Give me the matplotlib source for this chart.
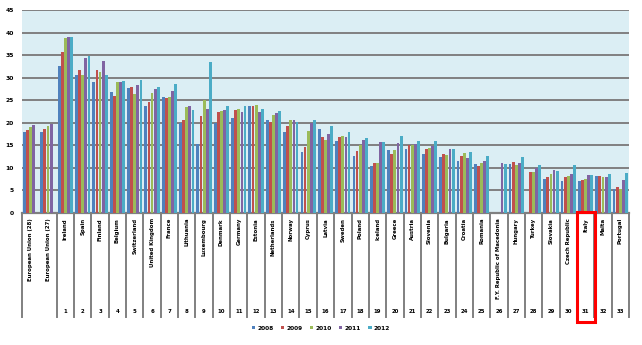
import numpy as np
import matplotlib
matplotlib.use("Agg")
import matplotlib.pyplot as plt
from matplotlib.transforms import blended_transform_factory
from matplotlib.patches import Rectangle, Patch
from matplotlib.lines import Line2D

nan = np.nan

countries = [
    "European Union (28)", "European Union (27)", "Ireland", "Spain", "Finland",
    "Belgium", "Switzerland", "United Kingdom", "France", "Lithuania",
    "Luxembourg", "Denmark", "Germany", "Estonia", "Netherlands", "Norway",
    "Cyprus", "Latvia", "Sweden", "Poland", "Iceland", "Greece", "Austria",
    "Slovenia", "Bulgaria", "Croatia", "Romania",
    "F.Y. Republic of Macedonia", "Hungary", "Turkey", "Slovakia",
    "Czech Republic", "Italy", "Malta", "Portugal",
]

years = ["2008", "2009", "2010", "2011", "2012"]

v2008 = [17.9, 17.9, 32.5, 30.5, 29.0, 26.8, 27.6, 23.7, 25.7, 19.9,
         15.3, 19.9, 21.0, 23.7, 20.6, 17.9, 13.5, 18.6, 16.0, 12.6,
         10.4, 14.0, 14.2, 13.1, 12.4, 11.5, 10.9, nan, 10.9, nan,
         7.6, 7.1, 7.1, 8.2, 5.4]
v2009 = [18.4, 18.6, 35.6, 31.6, 31.8, 25.9, 27.9, 24.6, 25.4, 20.6,
         21.5, 22.4, 22.8, 23.7, 20.1, 19.3, 14.6, 16.8, 16.8, 13.8,
         11.1, 13.1, 15.1, 14.2, 13.1, 12.6, 10.4, nan, 11.3, 9.1,
         8.0, 8.0, 7.4, 8.2, 5.8]
v2010 = [19.0, 19.3, 38.7, 30.7, 31.2, 29.0, 26.3, 26.5, 25.7, 23.5,
         25.0, 22.6, 23.0, 23.9, 21.7, 20.6, 18.2, 16.2, 17.1, 15.1,
         11.1, 14.0, 15.1, 14.4, 12.9, 13.3, 11.1, nan, 10.7, 9.1,
         8.7, 8.2, 7.6, 8.0, 5.4]
v2011 = [19.5, 19.8, 39.1, 34.3, 33.6, 29.0, 28.3, 27.4, 27.0, 23.7,
         23.0, 22.8, 22.4, 22.4, 22.1, 20.6, 19.9, 17.5, 16.8, 16.2,
         15.7, 15.5, 15.3, 14.9, 14.2, 12.2, 11.5, 11.1, 11.1, 10.0,
         9.6, 8.7, 8.5, 8.0, 7.4]
v2012 = [nan, nan, 39.1, 34.9, 30.7, 29.2, 29.4, 27.9, 28.5, 22.8,
         33.4, 23.7, 23.7, 23.0, 22.6, 20.1, 20.6, 19.3, 17.9, 16.6,
         15.7, 17.1, 16.0, 16.0, 14.2, 13.5, 12.6, 10.9, 12.4, 10.7,
         9.3, 10.7, 8.5, 8.7, 8.9]

series = [v2008, v2009, v2010, v2011, v2012]
colors = ["#4F81BD", "#C0504D", "#9BBB59", "#8064A2", "#4BACC6"]
yticks = [0, 5, 10, 15, 20, 25, 30, 35, 40, 45]
highlight = "Italy"

W, H = 642, 345
fig = plt.figure(figsize=(W / 100, H / 100), dpi=100)
left, right, top, bottom = 22, 629, 10, 213
ax = fig.add_axes([left / W, (H - bottom) / H, (right - left) / W, (bottom - top) / H])
ax.set_facecolor("#DBEEF4")

n = len(countries)
x = np.arange(n)
bw = 0.18
for k, (vals, c) in enumerate(zip(series, colors)):
    ax.bar(x + (k - 2) * bw, vals, width=bw * 0.9, color=c, zorder=3, linewidth=0)

ax.set_xlim(-0.5, n - 0.5)
ax.set_ylim(0, 45)
ax.set_yticks(yticks)
ax.set_yticklabels([str(t) for t in yticks], fontsize=4.3, fontweight="bold")
ax.tick_params(axis="y", length=0, pad=6)
ax.set_xticks([])
for s in ["left", "right", "top"]:
    ax.spines[s].set_visible(False)
ax.spines["bottom"].set_color("#808080")
ax.spines["bottom"].set_linewidth(1.6)
ax.yaxis.grid(True, color="#808080", linewidth=1.4, zorder=0)
ax.set_axisbelow(True)

# category table below the axis
tr = blended_transform_factory(ax.transData, ax.transAxes)
px = 1.0 / (bottom - top)
y_bot = -(317 - bottom) * px
seps = [-0.5] + [i + 0.5 for i in range(1, n)]
for s in seps:
    ax.add_line(Line2D([s, s], [0, y_bot], transform=tr, color="#808080",
                       linewidth=1.4, clip_on=False, zorder=2))

for i, name in enumerate(countries):
    ax.text(i, -(218 - bottom) * px, name, transform=tr, rotation=90,
            ha="center", va="top", fontsize=3.9, fontweight="bold",
            clip_on=False)
for i in range(2, n):
    ax.text(i, -(311.5 - bottom) * px, str(i - 1), transform=tr,
            ha="center", va="center", fontsize=3.9, fontweight="bold",
            clip_on=False)

# highlight box around one country
hi = countries.index(highlight)
ax.add_patch(Rectangle((hi - 0.52, -(322 - bottom) * px), 1.04,
                       (322 - 212) * px, transform=tr, fill=False,
                       edgecolor="#FF0000", linewidth=2.2, clip_on=False,
                       zorder=5))

handles = [Patch(facecolor=c, edgecolor="none") for c in colors]
fig.legend(handles, years, loc="center", bbox_to_anchor=(321 / W, (H - 328) / H),
           ncol=5, frameon=False, handlelength=0.6,
           handleheight=0.6, handletextpad=0.4, columnspacing=1.2,
           prop={"size": 4.2, "weight": "bold"})

fig.savefig("out.png", dpi=100)
